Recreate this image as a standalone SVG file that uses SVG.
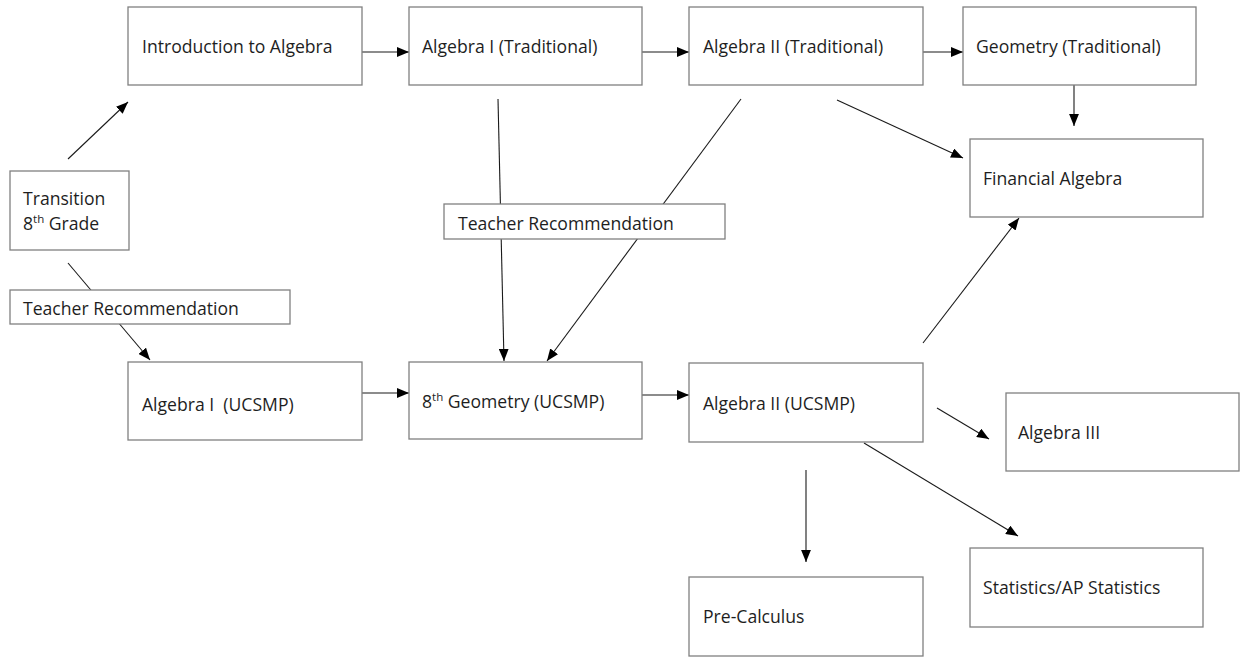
<svg xmlns="http://www.w3.org/2000/svg" width="1241" height="657" viewBox="0 0 1241 657">
<style>
.box{fill:#fff;stroke:#808080;stroke-width:1.3}
.lbl{font-family:"Open Sans","Liberation Sans",sans-serif;font-size:17.6px;fill:#1e1e1e}
.sup{font-size:11.5px}
.con line{stroke:#1a1a1a;stroke-width:1.1;marker-end:url(#ah)}
</style>
<defs>
<marker id="ah" markerUnits="userSpaceOnUse" markerWidth="12" markerHeight="10" refX="11" refY="4.5" orient="auto" viewBox="0 0 11 9">
<path d="M0,0 L11,4.5 L0,9 z" fill="#000"/>
</marker>
</defs>
<rect width="1241" height="657" fill="#fff"/>
<g id="connectors" class="con">
<line x1="68" y1="159" x2="128" y2="102"/>
<line x1="362" y1="52" x2="409" y2="52"/>
<line x1="642" y1="52" x2="689" y2="52"/>
<line x1="923" y1="52" x2="963" y2="52"/>
<line x1="1074" y1="85" x2="1074" y2="126"/>
<line x1="837" y1="100" x2="963" y2="158"/>
<line x1="498" y1="99" x2="504" y2="361"/>
<line x1="741" y1="99" x2="547" y2="361"/>
<line x1="68" y1="263" x2="150" y2="360"/>
<line x1="362" y1="393" x2="409" y2="393"/>
<line x1="642" y1="395" x2="689" y2="395"/>
<line x1="923" y1="343" x2="1019" y2="218"/>
<line x1="937" y1="408" x2="989" y2="439"/>
<line x1="864" y1="443" x2="1018" y2="536"/>
<line x1="806" y1="470" x2="806" y2="562"/>
</g>
<g id="intro"><rect class="box" x="128" y="7" width="234" height="78"/><text class="lbl" x="142" y="53">Introduction to Algebra</text></g>
<g id="alg1trad"><rect class="box" x="409" y="7" width="233" height="78"/><text class="lbl" x="422" y="53">Algebra I (Traditional)</text></g>
<g id="alg2trad"><rect class="box" x="689" y="7" width="234" height="78"/><text class="lbl" x="703" y="53">Algebra II (Traditional)</text></g>
<g id="geotrad"><rect class="box" x="963" y="7" width="233" height="78"/><text class="lbl" x="976" y="53">Geometry (Traditional)</text></g>
<g id="transition"><rect class="box" x="10" y="171" width="119" height="79"/><text class="lbl" x="23" y="205">Transition</text><text class="lbl" x="23" y="230">8<tspan class="sup" dy="-7">th</tspan><tspan dy="7"> Grade</tspan></text></g>
<g id="financial"><rect class="box" x="970" y="139" width="233" height="78"/><text class="lbl" x="983" y="185">Financial Algebra</text></g>
<g id="teacherrec1"><rect class="box" x="444" y="204" width="281" height="35"/><text class="lbl" x="458" y="230">Teacher Recommendation</text></g>
<g id="teacherrec2"><rect class="box" x="10" y="290" width="280" height="34"/><text class="lbl" x="23" y="315">Teacher Recommendation</text></g>
<g id="alg1ucsmp"><rect class="box" x="128" y="362" width="234" height="78"/><text class="lbl" x="142" y="411" xml:space="preserve">Algebra I  (UCSMP)</text></g>
<g id="geoucsmp"><rect class="box" x="409" y="362" width="233" height="77"/><text class="lbl" x="422" y="408">8<tspan class="sup" dy="-7">th</tspan><tspan dy="7"> Geometry (UCSMP)</tspan></text></g>
<g id="alg2ucsmp"><rect class="box" x="689" y="363" width="234" height="79"/><text class="lbl" x="703" y="410">Algebra II (UCSMP)</text></g>
<g id="alg3"><rect class="box" x="1006" y="393" width="233" height="78"/><text class="lbl" x="1018" y="439">Algebra III</text></g>
<g id="stats"><rect class="box" x="970" y="548" width="233" height="79"/><text class="lbl" x="983" y="594">Statistics/AP Statistics</text></g>
<g id="precalc"><rect class="box" x="689" y="577" width="234" height="79"/><text class="lbl" x="703" y="623">Pre-Calculus</text></g>
</svg>
